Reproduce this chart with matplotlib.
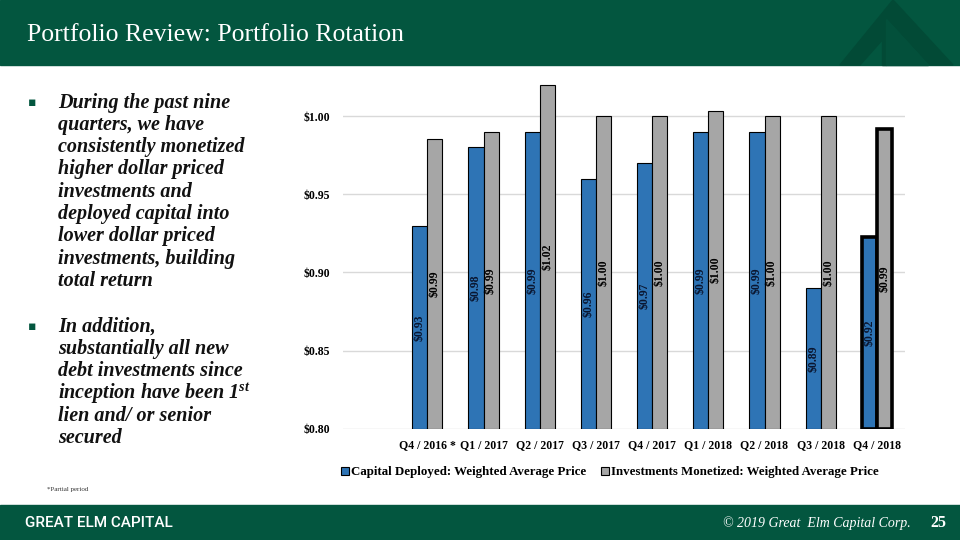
import numpy as np
import matplotlib.pyplot as plt
from matplotlib.patches import Rectangle, Polygon

quarters = ['Q4 / 2016 *', 'Q1 / 2017', 'Q2 / 2017', 'Q3 / 2017', 'Q4 / 2017',
            'Q1 / 2018', 'Q2 / 2018', 'Q3 / 2018', 'Q4 / 2018']
deployed = [0.930, 0.980, 0.990, 0.960, 0.970, 0.990, 0.990, 0.890, 0.923]
monetized = [0.985, 0.990, 1.020, 1.000, 1.000, 1.003, 1.000, 1.000, 0.992]
deployed_labels = ['$0.93', '$0.98', '$0.99', '$0.96', '$0.97', '$0.99', '$0.99', '$0.89', '$0.92']
monetized_labels = ['$0.99', '$0.99', '$1.02', '$1.00', '$1.00', '$1.00', '$1.00', '$1.00', '$0.99']
y_ticks = [0.80, 0.85, 0.90, 0.95, 1.00]

green = '#03563F'
dark_green = '#024A36'
blue = '#2E74B5'
gray = '#A6A6A6'
serif = 'Liberation Serif'

plt.rcParams['mathtext.fontset'] = 'custom'
plt.rcParams['mathtext.it'] = 'Liberation Serif:bold:italic'
plt.rcParams['mathtext.rm'] = 'Liberation Serif:bold'

fig = plt.figure(figsize=(9.6, 5.4), dpi=100)


def px(x, y):
    # pixel position -> figure fraction
    return (x / 960, 1 - y / 540)


# header / footer bands
fig.patches.append(Rectangle((0, 1 - 65 / 540), 1, 65 / 540, transform=fig.transFigure,
                             color=green, zorder=0))
fig.patches.append(Rectangle((0, 0), 1, 35 / 540, transform=fig.transFigure,
                             color=green, zorder=0))
# logo chevron in the header corner
fig.patches.append(Polygon([px(840, 65), px(893, 0), px(953, 65), px(930, 65), px(884, 15),
                            px(884, 38), px(860, 65)],
                           closed=True, transform=fig.transFigure, color=dark_green, zorder=1))
fig.patches.append(Polygon([px(882, 17), px(886, 17), px(886, 65), px(882, 65)],
                           closed=True, transform=fig.transFigure, color=dark_green, zorder=1))
fig.patches.append(Polygon([px(886, 19), px(886, 65), px(928, 65)],
                           closed=True, transform=fig.transFigure, color='#03503B', zorder=1))

fig.text(27 / 960, 1 - 35 / 540, 'Portfolio Review: Portfolio Rotation', color='white',
         family=serif, fontsize=18.5, va='center', ha='left')
fig.text(25 / 960, 1 - 523 / 540, 'GREAT ELM CAPITAL', color='white', family='Roboto',
         weight='medium', fontsize=11, va='center', ha='left')
fig.text(911 / 960, 1 - 523 / 540, '\u00a9 2019 Great  Elm Capital Corp.', color='white',
         family=serif, style='italic', fontsize=10, va='center', ha='right')
fig.text(938 / 960, 1 - 523 / 540, '25', color='white', family=serif, weight='bold',
         fontsize=11.5, va='center', ha='center')
fig.text(47 / 960, 1 - 490 / 540, '*Partial period', color='#333333', family=serif,
         fontsize=5, va='center', ha='left')

# bullet text
para1 = ['During the past nine', 'quarters, we have', 'consistently monetized',
         'higher dollar priced', 'investments and', 'deployed capital into',
         'lower dollar priced', 'investments, building', 'total return']
para2 = ['In addition,', 'substantially all new', 'debt investments since',
         'inception have been 1$^{st}$', 'lien and/ or senior', 'secured']
for start, lines in [(102.5, para1), (326.5, para2)]:
    fig.text(32 / 960, 1 - start / 540, '\u25aa', color=green, fontsize=9,
             va='center', ha='center', family='DejaVu Sans')
    for i, line in enumerate(lines):
        fig.text(58 / 960, 1 - (start + i * 22.3) / 540, line, color='#111111',
                 family=serif, weight='bold', style='italic', fontsize=14.5,
                 va='center', ha='left')

# chart
ax = fig.add_axes([343 / 960, 0.2056, 562 / 960, 0.652])
x = np.arange(len(quarters))
w = 0.267
lw = [0.8] * (len(quarters) - 1) + [2.6]
ax.bar(x - w / 2, np.array(deployed) - 0.80, w, bottom=0.80, color=blue,
       edgecolor='black', linewidth=lw, label='Capital Deployed: Weighted Average Price', zorder=3)
ax.bar(x + w / 2, np.array(monetized) - 0.80, w, bottom=0.80, color=gray,
       edgecolor='black', linewidth=lw, label='Investments Monetized: Weighted Average Price', zorder=3)

for i in range(len(quarters)):
    ax.text(x[i] - w / 2, (0.80 + deployed[i]) / 2, deployed_labels[i], rotation=90,
            ha='center', va='center', family=serif, weight='bold', fontsize=8.5,
            color='#0A1630', zorder=4)
    ax.text(x[i] + w / 2, (0.80 + monetized[i]) / 2, monetized_labels[i], rotation=90,
            ha='center', va='center', family=serif, weight='bold', fontsize=8.5,
            color='black', zorder=4)

ax.set_xlim(-1.5, 8.5)
ax.set_ylim(0.80, 1.025)
ax.set_yticks(y_ticks)
ax.set_yticklabels(['$%.2f' % v for v in y_ticks], family=serif, weight='bold', fontsize=8.5)
ax.set_xticks(x)
ax.set_xticklabels(quarters, family=serif, weight='bold', fontsize=8.5)
ax.tick_params(length=0, pad=7)
ax.tick_params(axis='y', pad=9)
ax.grid(axis='y', color='#D9D9D9', linewidth=1, zorder=0)
for s in ax.spines.values():
    s.set_visible(False)

leg = ax.legend(loc='center', bbox_to_anchor=(0.475, -0.123), ncol=2, frameon=False,
                prop={'family': serif, 'weight': 'bold', 'size': 9.3},
                handlelength=0.6, handleheight=0.6, handletextpad=0.15, columnspacing=1.2)
for h in leg.legend_handles:
    h.set_linewidth(0.8)

fig.savefig('out.png', dpi=100)
